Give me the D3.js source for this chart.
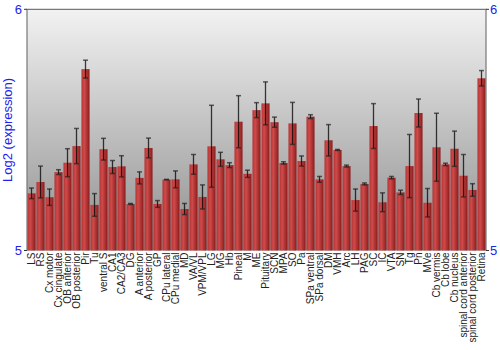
<!DOCTYPE html>
<html>
<head>
<meta charset="utf-8">
<script src="https://cdn.jsdelivr.net/npm/d3@7"></script>
<style>
  body { margin: 0; background: #fff; }
  svg text { font-family: "Liberation Sans", Arial, sans-serif; }
</style>
</head>
<body>
<div id="chart"></div>
<script>
var regions = ["LS", "RS", "Cx motor", "Cx cingulate", "OB anterior", "OB posterior", "Pir", "Tu",
  "ventral S", "CA1", "CA2/CA3", "DG", "A anterior", "A posterior", "GP", "CPu lateral", "CPu medial",
  "MD", "VA/VL", "VPM/VPL", "LG", "MG", "Hb", "Pineal", "M", "ME", "Pituitary", "SCN", "MPA", "SO",
  "Pa", "SPa ventral", "SPa dorsal", "DM", "VMH", "Arc", "LH", "PAG", "SC", "IC", "VTA", "SN", "Tg",
  "Pn", "MVe", "Cb vermis", "Cb lobe", "Cb nucleus", "spinal cord anterior", "spinal cord posterior", "Retina"];

var expression = [5.237, 5.284, 5.221, 5.325, 5.364, 5.433, 5.752, 5.189,
  5.420, 5.346, 5.349, 5.193, 5.301, 5.425, 5.193, 5.294, 5.295,
  5.172, 5.357, 5.222, 5.432, 5.378, 5.354, 5.534, 5.318, 5.582, 5.610, 5.532, 5.363, 5.527,
  5.371, 5.555, 5.295, 5.457, 5.417, 5.350, 5.209, 5.276, 5.516, 5.200, 5.302, 5.241, 5.350,
  5.570, 5.198, 5.428, 5.357, 5.422, 5.310, 5.251, 5.714];

var errors = [0.022, 0.066, 0.034, 0.010, 0.058, 0.073, 0.037, 0.047,
  0.045, 0.027, 0.044, 0.002, 0.025, 0.041, 0.014, 0.001, 0.035,
  0.023, 0.041, 0.050, 0.170, 0.029, 0.010, 0.108, 0.015, 0.031, 0.089, 0.021, 0.005, 0.087,
  0.021, 0.008, 0.012, 0.065, 0.002, 0.004, 0.046, 0.004, 0.093, 0.039, 0.005, 0.009, 0.131,
  0.058, 0.059, 0.141, 0.005, 0.073, 0.088, 0.026, 0.032];

var yTicks = [5, 6];
var yTitle = "Log2 (expression)";

var chart = {
  width: 500,
  height: 350,
  margin: { top: 9.3, right: 14, bottom: 99.5, left: 27 }
};
chart.plot_w = chart.width - chart.margin.left - chart.margin.right;
chart.plot_h = chart.height - chart.margin.top - chart.margin.bottom;

var svg = d3.select("#chart").append("svg")
  .attr("width", chart.width)
  .attr("height", chart.height);

var defs = svg.append("defs");

// background gradient
var bg = defs.append("linearGradient")
  .attr("id", "bg_grad")
  .attr("x1", 0).attr("y1", 0).attr("x2", 0).attr("y2", 1);
bg.append("stop").attr("offset", "0%").attr("stop-color", "#f2f2f2");
bg.append("stop").attr("offset", "100%").attr("stop-color", "#8e8e8e");

// bar gradient
var bar_grad = defs.append("linearGradient")
  .attr("id", "bar_grad")
  .attr("x1", 0).attr("y1", 0).attr("x2", 1).attr("y2", 0);
bar_grad.append("stop").attr("offset", "0%").attr("stop-color", "#b43434");
bar_grad.append("stop").attr("offset", "35%").attr("stop-color", "#d04a4a");
bar_grad.append("stop").attr("offset", "100%").attr("stop-color", "#8a1c1c");

var g = svg.append("g")
  .attr("transform", "translate(" + chart.margin.left + "," + chart.margin.top + ")");

var x = d3.scaleBand()
  .domain(regions)
  .range([0, chart.plot_w])
  .paddingInner(0.1)
  .paddingOuter(0.05);

var y = d3.scaleLinear()
  .domain([5, 6])
  .range([chart.plot_h, 0]);

g.append("rect")
  .attr("width", chart.plot_w)
  .attr("height", chart.plot_h)
  .attr("fill", "url(#bg_grad)");

// bars
g.selectAll(".bar")
  .data(regions)
  .enter().append("rect")
  .attr("class", "bar")
  .attr("x", function(d){ return x(d); })
  .attr("y", function(d, i){ return y(expression[i]); })
  .attr("width", x.bandwidth())
  .attr("height", function(d, i){ return chart.plot_h - y(expression[i]); })
  .attr("fill", "url(#bar_grad)");

// error bars
var err = g.selectAll(".err")
  .data(regions)
  .enter().append("g")
  .attr("class", "err")
  .attr("transform", function(d){ return "translate(" + (x(d) + x.bandwidth()/2) + ",0)"; });

err.append("line")
  .attr("y1", function(d, i){ return y(expression[i] + errors[i]); })
  .attr("y2", function(d, i){ return y(expression[i] - errors[i]); })
  .attr("stroke", "#000")
  .attr("stroke-opacity", 0.75)
  .attr("stroke-width", 1.3);

err.selectAll(".cap")
  .data(function(d, i){ return [expression[i] + errors[i], expression[i] - errors[i]]; })
  .enter().append("line")
  .attr("class", "cap")
  .attr("x1", -2.5).attr("x2", 2.5)
  .attr("y1", function(v){ return y(v); })
  .attr("y2", function(v){ return y(v); })
  .attr("stroke", "#222")
  .attr("stroke-opacity", 0.7)
  .attr("stroke-width", 1.5);

// frame: left, top, right
g.append("path")
  .attr("d", "M0," + chart.plot_h + "V0H" + chart.plot_w + "V" + chart.plot_h)
  .attr("fill", "none")
  .attr("stroke", "#777")
  .attr("stroke-width", 1.2);

// left axis ticks + labels
var left_axis = g.append("g");
left_axis.selectAll("line")
  .data(yTicks)
  .enter().append("line")
  .attr("x1", -3).attr("x2", 0)
  .attr("y1", function(d){ return y(d); })
  .attr("y2", function(d){ return y(d); })
  .attr("stroke", "#333");
left_axis.selectAll("text")
  .data(yTicks)
  .enter().append("text")
  .attr("x", -5)
  .attr("y", function(d){ return y(d); })
  .attr("dy", "0.36em")
  .attr("text-anchor", "end")
  .attr("font-size", "13px")
  .attr("fill", "#2222ee")
  .text(function(d){ return d; });

// right axis ticks + labels
var right_axis = g.append("g")
  .attr("transform", "translate(" + chart.plot_w + ",0)");
right_axis.selectAll("line")
  .data(yTicks)
  .enter().append("line")
  .attr("x1", 0).attr("x2", 3)
  .attr("y1", function(d){ return y(d); })
  .attr("y2", function(d){ return y(d); })
  .attr("stroke", "#333");
right_axis.selectAll("text")
  .data(yTicks)
  .enter().append("text")
  .attr("x", 4)
  .attr("y", function(d){ return y(d); })
  .attr("dy", "0.36em")
  .attr("text-anchor", "start")
  .attr("font-size", "13px")
  .attr("fill", "#2222ee")
  .text(function(d){ return d; });

// category labels
g.selectAll(".cat")
  .data(regions)
  .enter().append("text")
  .attr("class", "cat")
  .attr("transform", function(d){
    return "translate(" + (x(d) + x.bandwidth()/2 + 3.5) + "," + (chart.plot_h + 2) + ") rotate(-90)";
  })
  .attr("text-anchor", "end")
  .attr("font-size", "10px")
  .attr("fill", "#222")
  .text(function(d){ return d; });

// y title
svg.append("text")
  .attr("transform", "translate(12," + (chart.margin.top + chart.plot_h/2) + ") rotate(-90)")
  .attr("text-anchor", "middle")
  .attr("font-size", "13px")
  .attr("fill", "#2222ee")
  .text(yTitle);
</script>
</body>
</html>
